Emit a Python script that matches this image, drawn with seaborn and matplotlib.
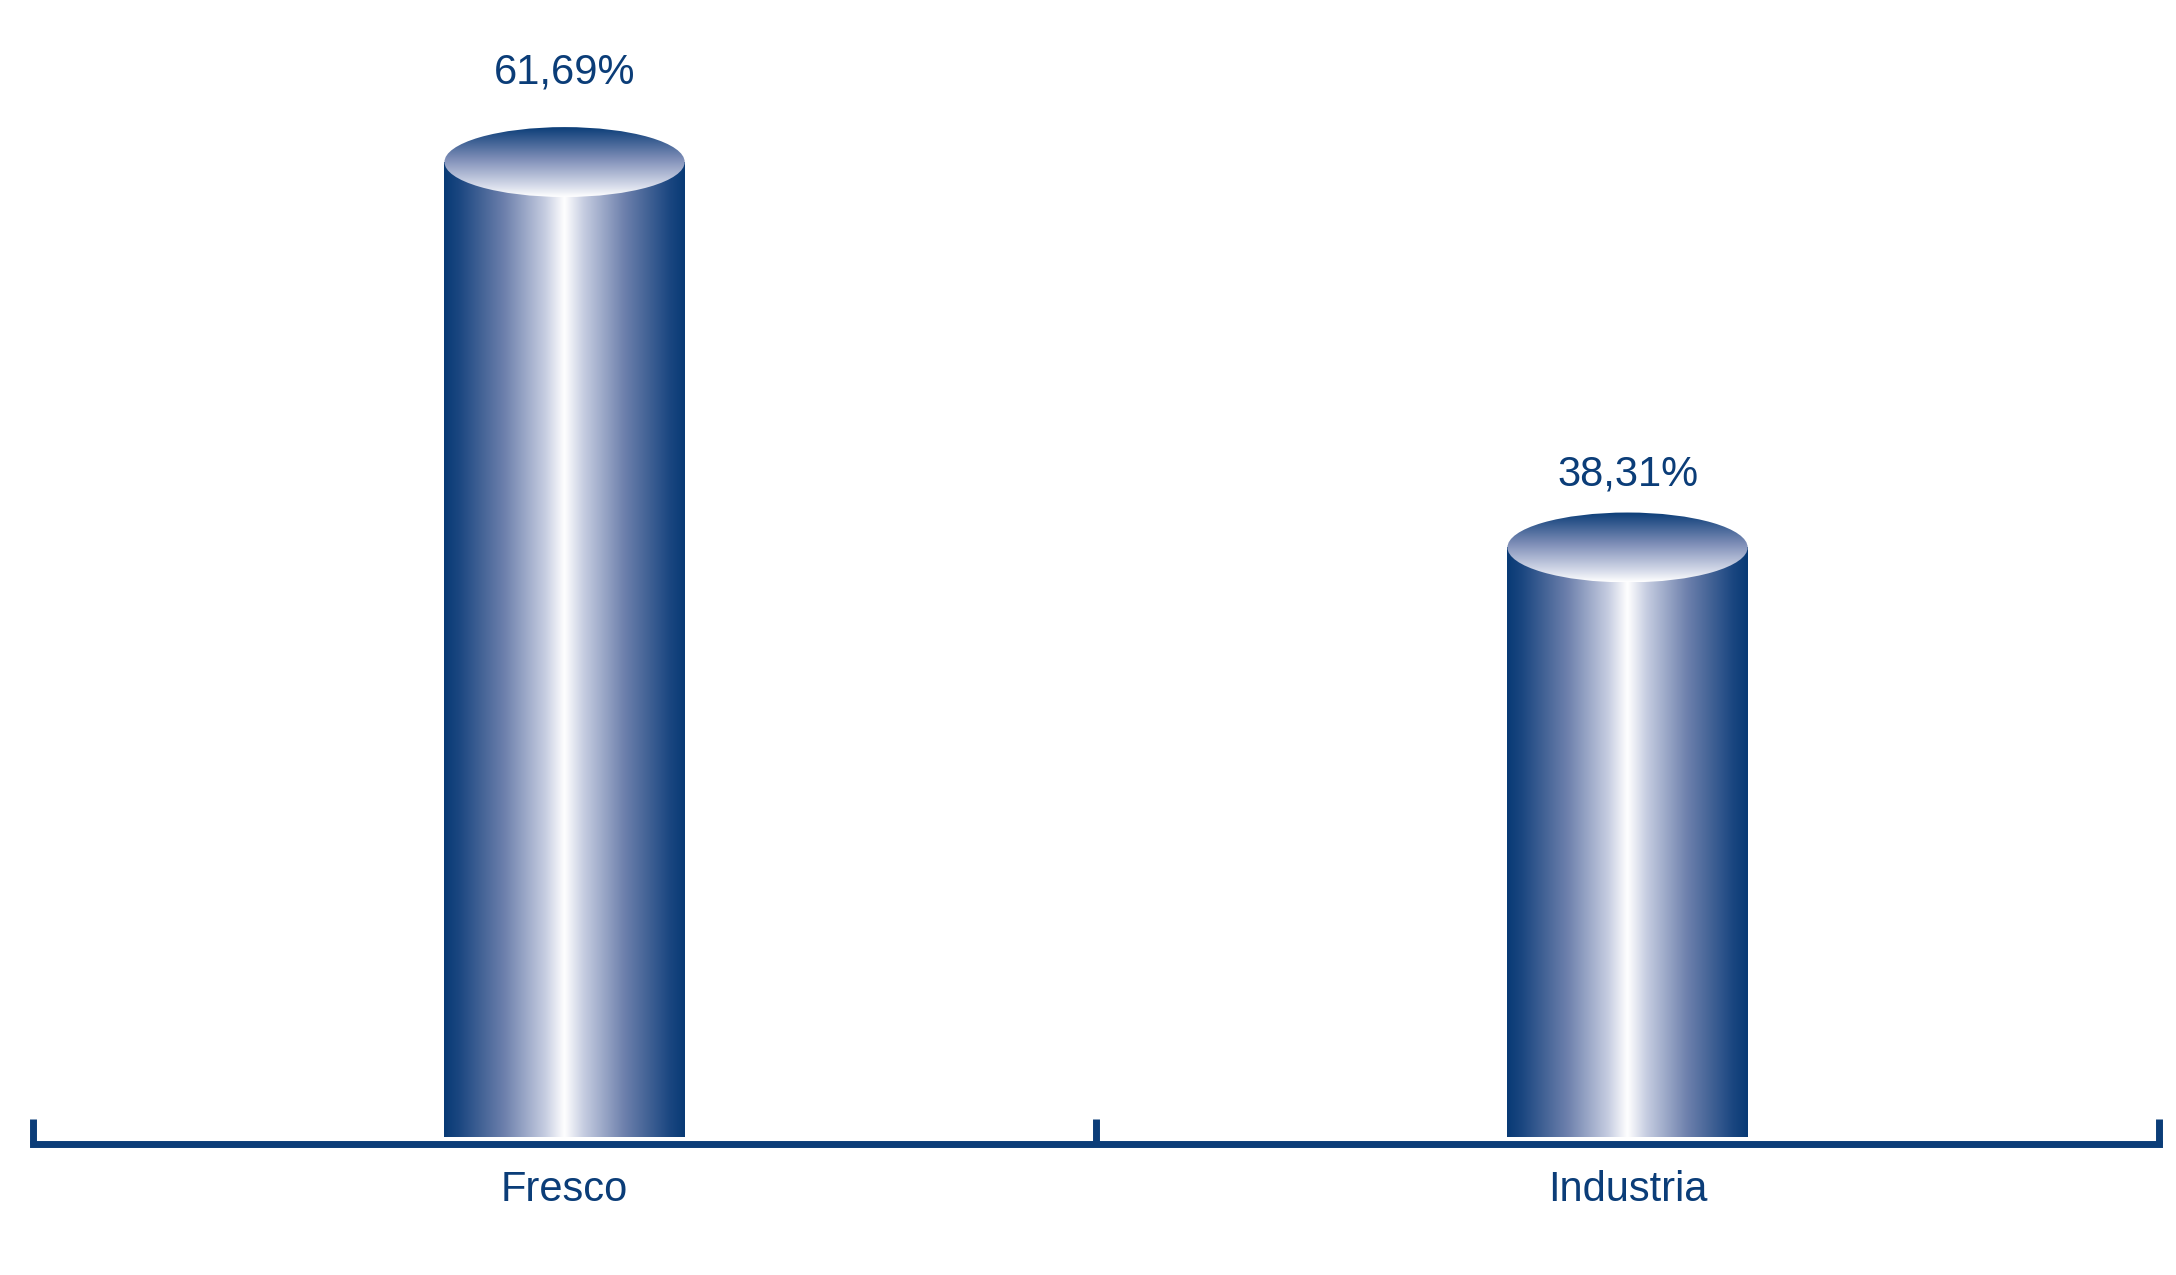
import numpy as np
import matplotlib
matplotlib.use("Agg")
import matplotlib.pyplot as plt
import seaborn as sns
from matplotlib.colors import LinearSegmentedColormap
from matplotlib.patches import Ellipse

# chart data
categories = ["Fresco", "Industria"]
shares = [61.69, 38.31]

DARK = "#0B3D78"

sns.set_style("white")
plt.rcParams['font.family'] = ['Liberation Sans', 'DejaVu Sans']

# horizontal shading of the cylinder body (dark edges, white highlight in the middle)
body_cmap = LinearSegmentedColormap.from_list(
    "body", [(0.0, "#083A75"), (0.06, "#1A4680"), (0.25, "#6D80AC"),
             (0.42, "#C6CDE1"), (0.5, "#FFFFFF"), (0.58, "#C6CDE1"),
             (0.75, "#6D80AC"), (0.94, "#1A4680"), (1.0, "#083A75")])
# vertical shading of the top cap
cap_cmap = LinearSegmentedColormap.from_list(
    "cap", [(0.0, "#FFFFFF"), (0.15, "#D8DDEB"), (0.55, "#7D8DB7"), (1.0, "#0B3D78")])

fig = plt.figure(figsize=(21.76, 12.75), dpi=100)
ax = fig.add_axes([0.0152, 0.1027, 0.977, 0.8973])

sns.barplot(x=categories, y=shares, width=0.226, ax=ax)

cap_half = 2.12   # half height of the top ellipse in data units
gap = 0.45        # small white gap above the axis line

grad_h = np.linspace(0, 1, 256).reshape(1, -1)
grad_v = np.linspace(0, 1, 256).reshape(-1, 1)

for patch, val in zip(ax.patches, shares):
    x0 = patch.get_x()
    w = patch.get_width()
    patch.set_visible(False)
    top = val - cap_half
    # body
    ax.imshow(grad_h, cmap=body_cmap, extent=[x0, x0 + w, gap, top],
              aspect="auto", origin="lower", zorder=2, interpolation="bicubic")
    # top cap
    ell = Ellipse((x0 + w / 2, top), w, 2 * cap_half, transform=ax.transData)
    im = ax.imshow(grad_v, cmap=cap_cmap, extent=[x0, x0 + w, top - cap_half, top + cap_half],
                   aspect="auto", origin="lower", zorder=3, interpolation="bicubic")
    im.set_clip_path(ell)
    # value label (the original places them a bit higher for taller bars)
    ax.text(x0 + w / 2, val * 1.043, f"{val:.2f}".replace(".", ",") + "%",
            ha="center", va="baseline", fontsize=30, color=DARK)

ax.set_xlim(-0.5, len(categories) - 0.5)
ax.set_ylim(0, 69.4)

# axis line with boundary ticks, category labels in between
for side in ["top", "right", "left"]:
    ax.spines[side].set_visible(False)
ax.spines["bottom"].set_linewidth(5)
ax.spines["bottom"].set_color(DARK)
ax.spines["bottom"].set_zorder(5)

ax.set_xticks(np.arange(len(categories) + 1) - 0.5)
ax.set_xticklabels([])
ax.set_xticks(np.arange(len(categories)), minor=True)
ax.set_xticklabels(categories, minor=True)
ax.tick_params(axis="x", which="major", bottom=True, direction="in", length=18,
               width=5, color=DARK)
ax.tick_params(axis="x", which="minor", bottom=True, length=0, pad=19,
               labelsize=30, labelcolor=DARK)
ax.set_yticks([])
ax.set_xlabel("")
ax.set_ylabel("")

fig.savefig("out.png", dpi=100)
